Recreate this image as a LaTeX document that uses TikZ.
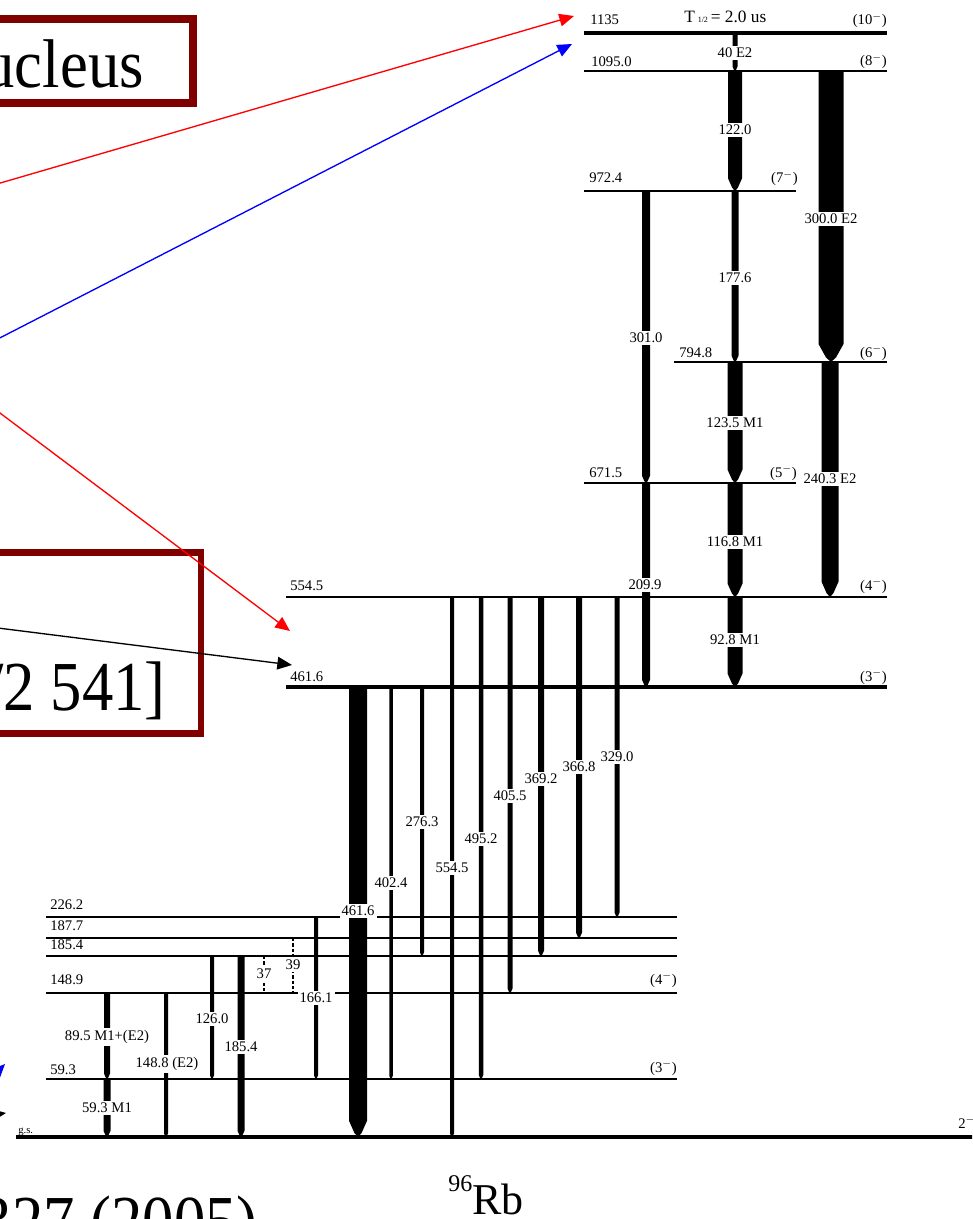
\documentclass[tikz,border=0pt]{standalone}
\usepackage{fontspec}
\setmainfont{Liberation Serif}
\usetikzlibrary{arrows.meta}
\definecolor{boxred}{RGB}{128,0,0}
\newcommand{\gbar}[4]{%
  \pgfmathsetmacro{\gtip}{min(#4*0.9,18)}%
  \fill ({#1-#4/2},{#2}) -- ({#1+#4/2},{#2}) -- ({#1+#4/2},{#3-\gtip}) -- ({#1+#4/5},{#3-\gtip/4}) -- ({#1},{#3}) -- ({#1-#4/5},{#3-\gtip/4}) -- ({#1-#4/2},{#3-\gtip}) -- cycle;}
\tikzset{
  lev/.style={line width=1.1pt},
  levthick/.style={line width=2.4pt},
  lvl/.style={font=\fontsize{11}{11}\selectfont, inner sep=0pt, anchor=base west},
  spin/.style={font=\fontsize{11}{11}\selectfont, inner sep=0pt, anchor=base east},
  tlab/.style={font=\fontsize{11}{11}\selectfont, fill=white, inner sep=1.5pt},
  annot/.style={line width=1pt, -{Triangle[length=11pt,width=9.5pt]}},
  bigbox/.style={draw=boxred, line width=5.5pt},
  bigtext/.style={inner sep=0pt, font=\fontsize{47}{50}\selectfont}
}
\begin{document}
\begin{tikzpicture}[x=0.75pt,y=-0.75pt]
\useasboundingbox (0,0) rectangle (972,1219);
\clip (0,0) rectangle (972,1219);

% slide boxes and texts
\draw[bigbox] (-20,19) rectangle (193,103);
\node[bigtext, anchor=base east] (t1) at (144,88) {\scalebox{1}[1.1]{ucleus}};
\draw[bigbox, line width=5pt] (-20,552.5) rectangle (201,733.5);
\node[bigtext, anchor=base east] (t2) at (166,710) {\scalebox{1}[1.12]{/2 541]}};
\node[bigtext, anchor=base east] (t3) at (258,1244) {\scalebox{1}[1.12]{327 (2005)}};

% levels
\draw[levthick] (584,33) -- (887,33);
\draw[lev] (584,71) -- (887,71);
\draw[lev] (584,191) -- (796,191);
\draw[lev] (674,362) -- (887,362);
\draw[lev] (584,483) -- (796,483);
\draw[lev] (286,597) -- (887,597);
\draw[levthick] (286,687) -- (887,687);
\draw[lev] (46,917) -- (677,917);
\draw[lev] (46,938) -- (677,938);
\draw[lev] (46,956) -- (677,956);
\draw[lev] (46,993) -- (677,993);
\draw[lev] (46,1079) -- (677,1079);
\draw[levthick] (16,1137) -- (975,1137);

% level energies
\node[lvl] (e1135) at (590,25) {1135};
\node[lvl] (e1095) at (591,67) {1095.0};
\node[lvl] (e972) at (589,183) {972.4};
\node[lvl] (e794) at (679,357) {794.8};
\node[lvl] (e671) at (589,477) {671.5};
\node[lvl] (e554) at (290,590) {554.5};
\node[lvl] (e461) at (290,681) {461.6};
\node[lvl] (e226) at (50,909) {226.2};
\node[lvl] (e187) at (50,930) {187.7};
\node[lvl] (e185) at (50,949) {185.4};
\node[lvl] (e148) at (50,984) {148.9};
\node[lvl] (e59) at (50,1074) {59.3};
\node[lvl, font=\fontsize{8}{8}\selectfont] (egs) at (18,1133) {g.s.};

% spins
\node[spin] (s10) at (887,25) {(10$^{-}$)};
\node[spin] (s8) at (887,66) {(8$^{-}$)};
\node[spin] (s7) at (798,183) {(7$^{-}$)};
\node[spin] (s6) at (887,357) {(6$^{-}$)};
\node[spin] (s5) at (797,477) {(5$^{-}$)};
\node[spin] (s4) at (887,590) {(4$^{-}$)};
\node[spin] (s3) at (887,681) {(3$^{-}$)};
\node[spin] (s4b) at (677,984) {(4$^{-}$)};
\node[spin] (s3b) at (677,1072) {(3$^{-}$)};
\node[lvl] (s2) at (958,1128) {2$^{-}$};
\node[lvl, font=\fontsize{13}{13}\selectfont] (half) at (684,23) {T\,{\fontsize{6}{6}\selectfont 1/2}\,= 2.0 us};

% transitions
\gbar{735}{33}{71}{5}
\gbar{735}{71}{191}{14}
\gbar{831}{71}{362}{25}
\gbar{735}{191}{362}{7}
\gbar{646}{191}{483}{8}
\gbar{735}{362}{483}{15}
\gbar{830}{362}{597}{17}
\gbar{735}{483}{597}{15}
\gbar{646}{483}{687}{8}
\gbar{735}{597}{687}{15}
\gbar{452}{597}{1137}{4}
\gbar{481}{597}{1079}{4.5}
\gbar{510}{597}{993}{5}
\gbar{541}{597}{956}{6}
\gbar{579}{597}{938}{6}
\gbar{617}{597}{917}{5}
\gbar{358}{687}{1137}{18}
\gbar{391}{687}{1079}{3.5}
\gbar{422}{687}{956}{4}
\gbar{316}{917}{1079}{4}
\gbar{212}{956}{1079}{4}
\gbar{241}{956}{1137}{7}
\gbar{166}{993}{1137}{4}
\gbar{107}{993}{1079}{6}
\gbar{107}{1079}{1137}{7}
\draw[line width=1.6pt, dash pattern=on 2.5pt off 1.5pt] (264,956) -- (264,993);
\draw[line width=1.6pt, dash pattern=on 2.5pt off 1.5pt] (293,938) -- (293,993);

% transition labels
\node[tlab] (g40) at (735,53) {40 E2};
\node[tlab] (g122) at (735,130) {122.0};
\node[tlab] (g300) at (831,219) {300.0 E2};
\node[tlab] (g177) at (735,278) {177.6};
\node[tlab] (g301) at (646,338) {301.0};
\node[tlab] (g123) at (735,423) {123.5 M1};
\node[tlab] (g240) at (830,479) {240.3 E2};
\node[tlab] (g116) at (735,542) {116.8 M1};
\node[tlab] (g209) at (645,585) {209.9};
\node[tlab] (g92) at (735,640) {92.8 M1};
\node[tlab] (g329) at (617,757) {329.0};
\node[tlab] (g366) at (579,767) {366.8};
\node[tlab] (g369) at (541,779) {369.2};
\node[tlab] (g405) at (510,796) {405.5};
\node[tlab] (g276) at (422,822) {276.3};
\node[tlab] (g495) at (481,839) {495.2};
\node[tlab] (g554) at (452,868) {554.5};
\node[tlab] (g402) at (391,883) {402.4};
\node[tlab] (g461) at (358,911) {461.6};
\node[tlab] (g166) at (316,998) {166.1};
\node[tlab] (g126) at (212,1019) {126.0};
\node[tlab] (g185) at (241,1047) {185.4};
\node[tlab] (g89) at (107,1037) {89.5 M1+(E2)};
\node[tlab] (g148) at (167,1064) {148.8 (E2)};
\node[tlab] (g59) at (107,1108) {59.3 M1};
\node[tlab] (g37) at (264,974) {37};
\node[tlab] (g39) at (293,965) {39};

% annotation arrows
\coordinate (r1s) at (-10,186);
\coordinate (r1e) at (574,16);
\coordinate (b1s) at (-10,343);
\coordinate (b1e) at (572,44);
\coordinate (r2s) at (-10,405.5);
\coordinate (r2e) at (290,631);
\coordinate (k1s) at (-10,627);
\coordinate (k1e) at (292,665);
\coordinate (b2s) at (-30,1100);
\coordinate (b2e) at (5,1064);
\coordinate (k2s) at (-30,1118);
\coordinate (k2e) at (6,1113);
\draw[annot, red] (r1s) -- (r1e);
\draw[annot, blue] (b1s) -- (b1e);
\draw[annot, red] (r2s) -- (r2e);
\draw[annot, black] (k1s) -- (k1e);
\draw[annot, blue] (b2s) -- (b2e);
\draw[annot, black] (k2s) -- (k2e);

% nucleus name
\node[inner sep=0pt, anchor=base west, font=\fontsize{33}{33}\selectfont] (rb) at (448,1214) {\raisebox{17pt}{\fontsize{18}{18}\selectfont 96}Rb};
\end{tikzpicture}
\end{document}
